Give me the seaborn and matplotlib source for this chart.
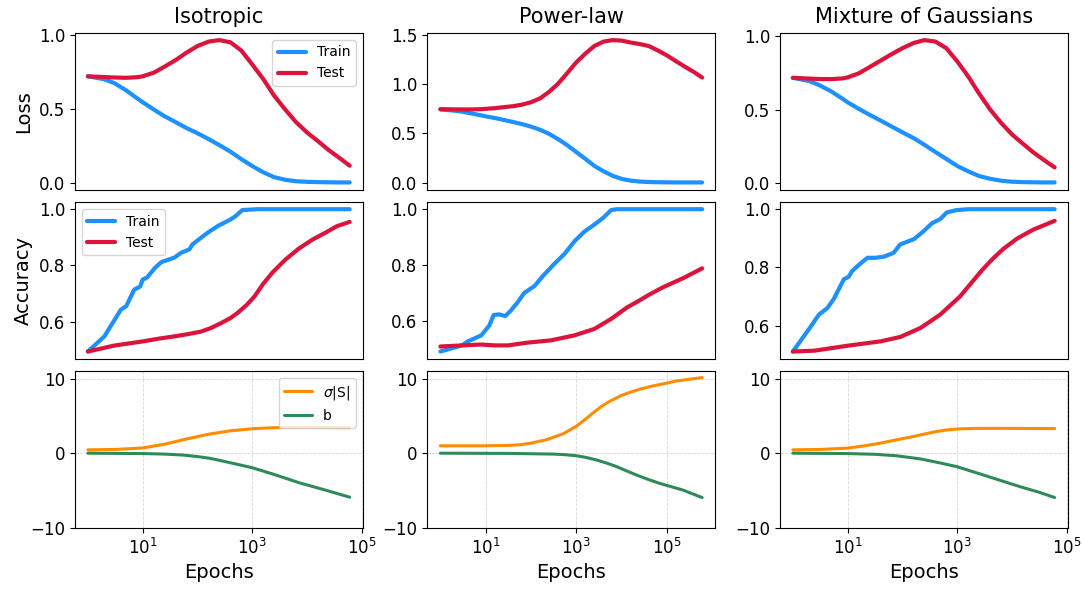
import matplotlib
matplotlib.use("Agg")
import matplotlib.pyplot as plt
import seaborn as sns
from matplotlib.ticker import NullLocator

TRAIN_C = "#1E90FF"
TEST_C = "#DC143C"
SIG_C = "#FF8C00"
B_C = "#2E8B57"

titles = ["Isotropic", "Power-law", "Mixture of Gaussians"]

# ---------------- loss curves ----------------
loss_epochs_short = [1, 2, 3, 5, 8, 10, 16, 25, 40, 63, 100, 160, 250, 400, 630,
                     1000, 1600, 2500, 4000, 6300, 10000, 16000, 25000, 40000, 60000]
loss_epochs_long = [1, 2, 3, 5, 8, 10, 16, 25, 40, 63, 100, 160, 250, 400, 630,
                    1000, 1600, 2500, 4000, 6300, 10000, 16000, 25000, 40000,
                    63000, 100000, 160000, 250000, 400000, 600000]

iso_loss_train = [0.72, 0.70, 0.675, 0.625, 0.57, 0.545, 0.495, 0.45, 0.41, 0.37, 0.335,
                  0.295, 0.255, 0.21, 0.16, 0.113, 0.07, 0.038, 0.02, 0.01, 0.006, 0.004,
                  0.003, 0.002, 0.002]
iso_loss_test = [0.72, 0.715, 0.712, 0.71, 0.714, 0.72, 0.745, 0.785, 0.83, 0.88, 0.925,
                 0.955, 0.965, 0.95, 0.895, 0.80, 0.70, 0.59, 0.495, 0.41, 0.34, 0.28,
                 0.22, 0.165, 0.115]

pow_loss_train = [0.742, 0.73, 0.72, 0.70, 0.682, 0.672, 0.655, 0.636, 0.615, 0.594, 0.568,
                  0.535, 0.495, 0.44, 0.38, 0.31, 0.24, 0.17, 0.115, 0.07, 0.038, 0.02,
                  0.011, 0.006, 0.004, 0.003, 0.002, 0.002, 0.002, 0.002]
pow_loss_test = [0.745, 0.743, 0.742, 0.742, 0.745, 0.748, 0.755, 0.765, 0.775, 0.79, 0.815,
                 0.855, 0.92, 1.005, 1.11, 1.22, 1.31, 1.385, 1.43, 1.445, 1.44, 1.42,
                 1.405, 1.385, 1.34, 1.29, 1.23, 1.175, 1.12, 1.065]

mog_loss_train = [0.717, 0.695, 0.668, 0.625, 0.575, 0.55, 0.505, 0.465, 0.425, 0.385, 0.345,
                  0.305, 0.26, 0.21, 0.163, 0.115, 0.077, 0.046, 0.027, 0.014, 0.007, 0.004,
                  0.003, 0.002, 0.002]
mog_loss_test = [0.717, 0.712, 0.709, 0.708, 0.713, 0.72, 0.748, 0.79, 0.835, 0.878, 0.92,
                 0.955, 0.975, 0.965, 0.92, 0.83, 0.725, 0.61, 0.5, 0.41, 0.33, 0.265,
                 0.205, 0.15, 0.105]

# ---------------- accuracy curves ----------------
iso_acc_train_ep = [1, 2, 4, 5, 7, 9, 10, 12, 17, 22, 38, 50, 71, 81, 117, 155, 234, 407,
                    500, 660, 1260, 60000]
iso_acc_train = [0.494, 0.548, 0.643, 0.655, 0.714, 0.725, 0.75, 0.757, 0.793, 0.812, 0.828,
                 0.845, 0.857, 0.875, 0.899, 0.917, 0.94, 0.964, 0.976, 0.997, 1.0, 1.0]
iso_acc_test_ep = [1, 3, 10, 20, 38, 63, 117, 178, 269, 400, 537, 794, 1100, 1585, 2344,
                   3981, 7079, 12589, 21878, 35481, 60000]
iso_acc_test = [0.494, 0.515, 0.53, 0.54, 0.548, 0.555, 0.565, 0.578, 0.595, 0.613, 0.631,
                0.66, 0.69, 0.735, 0.775, 0.82, 0.86, 0.892, 0.917, 0.94, 0.955]

pow_acc_train_ep = [1, 3, 4, 8, 12, 15, 20, 27, 36, 51, 71, 120, 182, 331, 550, 912, 1514,
                    2512, 3981, 5888, 7943, 600000]
pow_acc_train = [0.49, 0.512, 0.526, 0.548, 0.583, 0.621, 0.623, 0.617, 0.637, 0.667, 0.70,
                 0.725, 0.76, 0.805, 0.84, 0.885, 0.92, 0.945, 0.97, 0.997, 1.0, 1.0]
pow_acc_test_ep = [1, 3, 8, 16, 31, 85, 275, 912, 2512, 5888, 13490, 21380, 39811, 81283,
                   229087, 600000]
pow_acc_test = [0.508, 0.512, 0.515, 0.512, 0.512, 0.522, 0.53, 0.548, 0.571, 0.607, 0.649,
                0.667, 0.693, 0.72, 0.753, 0.788]

mog_acc_train_ep = [1, 2, 3, 4.3, 5.6, 8.5, 10.5, 12, 17, 23, 32, 46, 69, 91, 162, 245, 347,
                    490, 646, 977, 1585, 60000]
mog_acc_train = [0.511, 0.59, 0.638, 0.661, 0.692, 0.759, 0.768, 0.787, 0.813, 0.833, 0.833,
                 0.837, 0.85, 0.879, 0.897, 0.925, 0.952, 0.966, 0.989, 0.997, 1.0, 1.0]
mog_acc_test_ep = [1, 2.5, 10, 40, 91, 214, 490, 1122, 1778, 2818, 4467, 7079, 12589, 24547,
                   60000]
mog_acc_test = [0.511, 0.514, 0.531, 0.546, 0.561, 0.592, 0.638, 0.70, 0.745, 0.79, 0.83,
                0.865, 0.9, 0.93, 0.96]

# ---------------- sigma|S| and b ----------------
iso_sig_ep = [1, 3.2, 10, 25, 63, 160, 400, 1000, 2500, 6300, 16000, 60000]
iso_sig = [0.45, 0.5, 0.7, 1.2, 1.9, 2.55, 3.0, 3.28, 3.42, 3.46, 3.45, 3.42]
iso_b_ep = [1, 10, 25, 54, 100, 166, 250, 437, 1000, 2500, 7079, 21878, 60000]
iso_b = [0, -0.05, -0.12, -0.25, -0.45, -0.68, -0.95, -1.35, -1.95, -2.85, -3.95, -4.96, -5.9]

pow_sig_ep = [1, 10, 32, 56, 100, 219, 513, 1000, 1585, 2344, 3548, 5495, 10000, 15136,
              25119, 48978, 100000, 162181, 316228, 600000]
pow_sig = [0.99, 0.99, 1.05, 1.12, 1.35, 1.8, 2.6, 3.6, 4.55, 5.4, 6.25, 6.97, 7.75, 8.15,
           8.58, 9.02, 9.4, 9.68, 9.92, 10.14]
pow_b_ep = [1, 32, 316, 562, 1000, 1585, 2754, 4677, 7762, 12589, 21380, 39811, 69183,
            125893, 229087, 600000]
pow_b = [0, -0.03, -0.12, -0.2, -0.34, -0.55, -0.9, -1.33, -1.8, -2.35, -2.93, -3.55, -4.05,
         -4.5, -4.96, -5.95]

mog_sig_ep = [1, 3.2, 10, 20, 40, 79, 162, 263, 427, 630, 977, 1995, 6310, 60000]
mog_sig = [0.45, 0.5, 0.68, 0.98, 1.35, 1.8, 2.25, 2.6, 2.92, 3.1, 3.24, 3.32, 3.33, 3.3]
mog_b_ep = [1, 10, 32, 79, 214, 447, 977, 1778, 3467, 7079, 14125, 31623, 60000]
mog_b = [0, -0.05, -0.15, -0.35, -0.77, -1.25, -1.8, -2.4, -3.07, -3.8, -4.5, -5.25, -5.95]

loss_data = [
    (loss_epochs_short, iso_loss_train, iso_loss_test),
    (loss_epochs_long, pow_loss_train, pow_loss_test),
    (loss_epochs_short, mog_loss_train, mog_loss_test),
]
acc_data = [
    (iso_acc_train_ep, iso_acc_train, iso_acc_test_ep, iso_acc_test),
    (pow_acc_train_ep, pow_acc_train, pow_acc_test_ep, pow_acc_test),
    (mog_acc_train_ep, mog_acc_train, mog_acc_test_ep, mog_acc_test),
]
param_data = [
    (iso_sig_ep, iso_sig, iso_b_ep, iso_b),
    (pow_sig_ep, pow_sig, pow_b_ep, pow_b),
    (mog_sig_ep, mog_sig, mog_b_ep, mog_b),
]

plt.rcParams["font.family"] = ["DejaVu Sans"]
fig, axes = plt.subplots(3, 3, figsize=(10.84, 5.89), dpi=100, sharex="col")
fig.subplots_adjust(left=0.069, right=0.985, top=0.944, bottom=0.104,
                    wspace=0.224, hspace=0.08)

line_kw = dict(legend=False, solid_joinstyle="round", solid_capstyle="round")

for c in range(3):
    ax_l, ax_a, ax_p = axes[0, c], axes[1, c], axes[2, c]
    for ax in (ax_l, ax_a, ax_p):
        ax.set_xscale("log")

    ep, tr, te = loss_data[c]
    sns.lineplot(x=ep, y=tr, ax=ax_l, color=TRAIN_C, linewidth=3, label="Train", **line_kw)
    sns.lineplot(x=ep, y=te, ax=ax_l, color=TEST_C, linewidth=3, label="Test", **line_kw)

    e1, a1, e2, a2 = acc_data[c]
    sns.lineplot(x=e1, y=a1, ax=ax_a, color=TRAIN_C, linewidth=3, label="Train", **line_kw)
    sns.lineplot(x=e2, y=a2, ax=ax_a, color=TEST_C, linewidth=3, label="Test", **line_kw)

    s_ep, s_v, b_ep, b_v = param_data[c]
    sns.lineplot(x=s_ep, y=s_v, ax=ax_p, color=SIG_C, linewidth=2.2,
                 label=r"$\sigma$|S|", **line_kw)
    sns.lineplot(x=b_ep, y=b_v, ax=ax_p, color=B_C, linewidth=2.2, label="b", **line_kw)

    ax_l.set_title(titles[c], fontsize=15, pad=7)
    ax_l.set_yticks([0.0, 0.5, 1.0, 1.5] if c == 1 else [0.0, 0.5, 1.0])
    ax_a.set_yticks([0.6, 0.8, 1.0])
    ax_p.set_ylim(-10, 11)
    ax_p.set_yticks([-10, 0, 10])
    ax_p.grid(True, linestyle="--", linewidth=0.6, alpha=0.5)
    ax_p.set_xticks([10, 1000, 100000])
    ax_p.xaxis.set_minor_locator(NullLocator())
    ax_p.set_xlabel("Epochs", fontsize=14)

    for ax in (ax_l, ax_a):
        ax.tick_params(axis="x", which="both", bottom=False, labelbottom=False)
        ax.set_xlabel("")
    for ax in (ax_l, ax_a, ax_p):
        ax.tick_params(axis="both", labelsize=12)
        ax.set_ylabel("")

axes[0, 0].set_ylabel("Loss", fontsize=14)
axes[1, 0].set_ylabel("Accuracy", fontsize=14)
fig.align_ylabels(axes[:2, 0])

axes[0, 0].legend(loc="upper right", fontsize=10)
axes[1, 0].legend(loc="upper left", fontsize=10)
axes[2, 0].legend(loc="upper right", fontsize=10)

fig.savefig("out.png", dpi=100)
